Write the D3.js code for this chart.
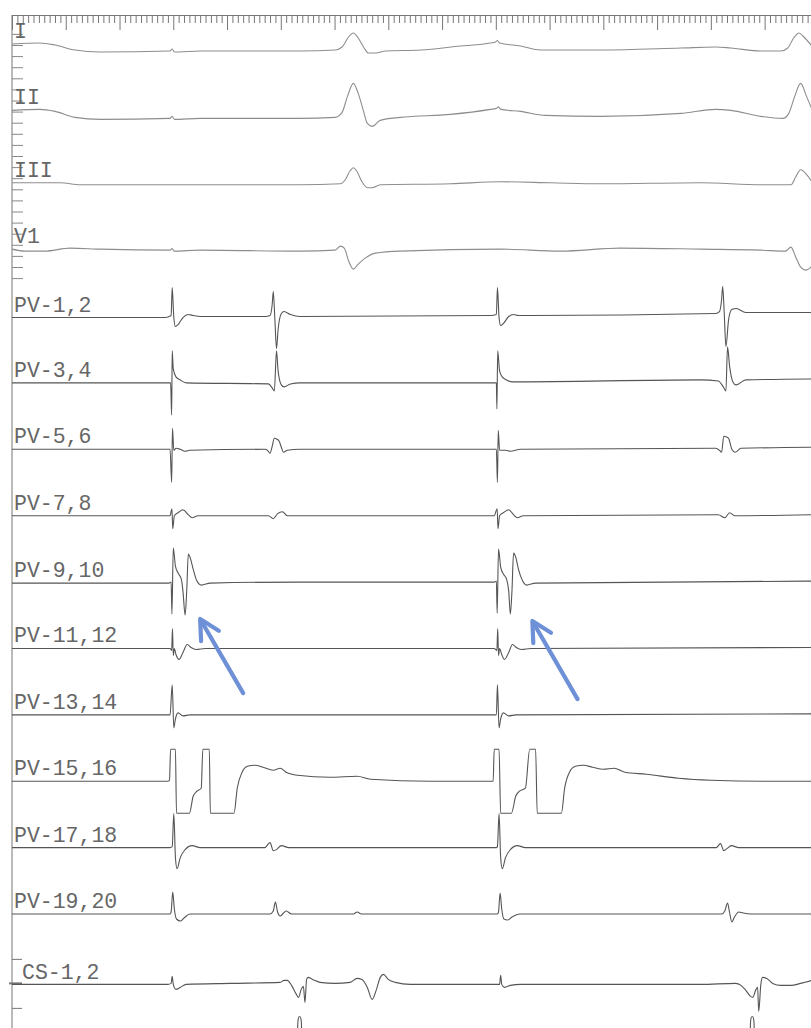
<!DOCTYPE html>
<html><head><meta charset="utf-8">
<script src="https://cdn.jsdelivr.net/npm/d3@7"></script>
<style>html,body{margin:0;padding:0;background:#fff}svg{display:block}</style>
</head><body>
<svg id="chart" width="811" height="1028"></svg>
<script>
// ---------------- DATA ----------------
// time in ms, amplitude in display units (positive = up)
const channels = ["I","II","III","V1","PV-1,2","PV-3,4","PV-5,6","PV-7,8","PV-9,10","PV-11,12","PV-13,14","PV-15,16","PV-17,18","PV-19,20","CS-1,2","STIM"];
const surfaceLeads = ["I","II","III","V1"];

const leadI = [[0,0.7],[52,0.8],[80,0.6],[117,0.1],[164,-0.1],[294,0],[298,0.2],[302,-0.1],[350,0],[536,0],[601,0.1],[614,0.4],[626,1.4],[635,1.8],[644,1.3],[655,0.3],[663,-0.2],[676,-0.2],[695,0],[760,0.1],[834,0.5],[890,0.8],[899,0.9],[903,1.05],[907,0.8],[946,0.5],[983,0.1],[1095,0.1],[1244,0.3],[1309,0.4],[1337,0.3],[1393,0],[1430,0],[1443,0.3],[1454,1.3],[1464,1.8],[1473,1.4],[1488,0.5]];
const leadII = [[0,0.7],[52,0.8],[80,0.6],[117,0],[164,-0.2],[294,-0.1],[298,0.1],[302,-0.2],[350,-0.1],[536,-0.1],[601,0],[614,0.5],[624,2.1],[635,3.4],[644,2.4],[654,0.6],[661,-0.6],[670,-0.9],[685,-0.3],[722,0],[816,0.3],[890,0.8],[901,0.9],[905,1.05],[909,0.8],[946,0.6],[992,0.2],[1095,0.1],[1244,0.4],[1309,0.8],[1337,0.7],[1393,0.1],[1434,-0.1],[1445,0.4],[1456,2.1],[1467,3.4],[1478,2.1],[1488,0.8]];
const leadIII = [[0,0.1],[89,0.1],[127,-0.1],[536,-0.1],[611,0],[620,0.4],[629,1.3],[635,1.6],[642,1.2],[651,0.2],[661,-0.4],[670,-0.4],[685,-0.1],[816,0],[909,0.2],[1002,0.1],[1095,0],[1281,0.1],[1393,-0.1],[1449,-0.1],[1458,0.7],[1467,1.4],[1477,1.0],[1488,0.2]];
const leadV1 = [[0,0.1],[24,-0.1],[61,-0.1],[108,0.2],[164,0.1],[294,0],[298,0.15],[302,-0.1],[350,0],[536,-0.1],[601,0],[611,0.4],[618,0.2],[627,-1.2],[635,-1.9],[644,-1.4],[657,-0.8],[676,-0.3],[722,-0.1],[909,0.1],[1020,-0.1],[1132,0.2],[1281,0.1],[1393,0],[1439,-0.1],[1449,0.3],[1458,-0.7],[1467,-1.7],[1477,-2.0],[1488,-1.6]];
const pv12 = [[0,-0.1],[285,-0.1],[296,0.1],[298,2.9],[301,-0.1],[304,-1.0],[309,-0.8],[318,-0.1],[328,0.2],[337,0.1],[350,0],[471,0],[480,0.1],[484,1.2],[486,2.5],[489,-0.3],[492,-3.2],[495,-1.3],[501,0.3],[506,0.5],[518,0.2],[536,0],[890,0.1],[901,0.2],[903,2.9],[906,-0.1],[909,-0.9],[914,-0.7],[924,0],[933,0.2],[942,0.1],[965,0.1],[1309,0.3],[1316,0.5],[1320,1.7],[1322,3.0],[1325,0.2],[1328,-3.0],[1333,-0.3],[1339,0.7],[1347,0.8],[1365,0.4],[1488,0.4]];
const pv34 = [[0,0],[290,0],[295,0],[297,-3.2],[298,3.2],[300,1.4],[305,0.6],[313,0.3],[324,0],[477,-0.1],[484,-0.5],[488,-0.8],[492,3.2],[495,1.2],[501,-0.2],[506,-0.4],[518,-0.1],[536,0],[897,0],[901,0],[902,-2.6],[903.5,3.2],[907,1.2],[912,0.6],[920,0.3],[931,0.1],[1281,0.3],[1314,0.2],[1322,-0.3],[1328,-0.8],[1331,3.6],[1335,1.6],[1341,0.1],[1347,-0.2],[1365,0.3],[1488,0.4]];
const pv56 = [[0,0],[294,0],[297,-3.3],[298.5,2.1],[301,-0.1],[305,0.1],[313,0],[322,-0.2],[331,-0.1],[471,0],[477,-0.2],[480,-0.4],[484,0.3],[488,1.1],[493,1.0],[497,0.8],[501,0.2],[505,-0.3],[512,-0.1],[536,0],[901,0],[903,-3.3],[904.5,1.9],[907,-0.1],[918,-0.1],[927,-0.2],[946,0],[1309,0.1],[1316,-0.1],[1320,-0.3],[1324,1.3],[1330,1.2],[1333,1.1],[1339,0],[1345,-0.3],[1356,0.1],[1488,0.2]];
const pv78 = [[0,0],[294,0],[297.5,0.7],[299,-1.3],[302,0],[309,0.3],[318,0.6],[328,0.1],[335,-0.2],[346,0],[477,0],[486,-0.3],[494,0.2],[503,0.4],[512,0],[897,0],[902.5,0.7],[904,-1.3],[907,0],[914,0.3],[924,0.6],[933,0.1],[940,-0.2],[951,0],[1314,0.1],[1326,-0.2],[1335,0.3],[1344,0],[1488,0.1]];
const pv910 = [[0,-0.1],[292,-0.1],[296,0],[297.5,-3.2],[300,3.4],[304,1.6],[309,0.9],[315,0.3],[318,-0.9],[322,-3.3],[325,-0.9],[328,2.8],[331,2.5],[337,1.3],[344,0.1],[352,-0.3],[369,-0.1],[536,0],[897,0],[901,0.1],[902.5,-3.1],[905,3.3],[909,1.5],[914,0.8],[920,0.3],[924,-0.9],[927,-3.2],[930,-0.9],[933,2.9],[937,2.5],[942,1.3],[950,0.1],[957,-0.3],[974,-0.1],[1488,0.1]];
const pv1112 = [[0,0],[294,0],[297,-0.2],[298.5,2.0],[300,-0.7],[302,0],[305,-0.6],[311,-1.1],[318,-0.4],[326,0.4],[333,0.1],[343,-0.1],[359,0],[897,0],[902,-0.2],[903.5,2.0],[905,-0.7],[907,0],[911,-0.6],[916,-1.1],[924,-0.4],[931,0.4],[938,0.1],[948,-0.1],[965,0],[1488,0.1]];
const pv1314 = [[0,0],[294,0],[298,3.0],[301,-1.3],[304,-0.4],[309,0.2],[318,-0.1],[331,0],[901,0],[903,3.0],[906,-1.3],[909,-0.4],[914,0.2],[924,-0.1],[937,0],[1488,0.1]];
const pv1516 = [[0,0],[290,0],[293,0.1],[295,3.2],[304,3.2],[306,-3.2],[330,-3.2],[337,-1.5],[344,-1.0],[352,-0.7],[355,3.2],[367,3.2],[369,-3.2],[413,-3.2],[419,-0.7],[428,0.9],[438,1.5],[452,1.6],[467,1.4],[486,1.1],[499,1.3],[510,0.9],[531,0.6],[592,0.4],[642,0.5],[667,0.2],[778,0],[895,0],[897,3.2],[906,3.2],[909,-3.2],[929,-3.2],[937,-1.5],[944,-1.0],[955,-0.7],[963,3.2],[974,3.2],[977,-3.2],[1022,-3.2],[1028,-0.7],[1037,0.9],[1048,1.5],[1063,1.6],[1080,1.4],[1100,1.2],[1120,1.3],[1140,0.9],[1180,0.7],[1240,0.3],[1300,0.1],[1400,0],[1488,0]];
const pv1718 = [[0,0],[294,0],[298,0.1],[301,3.4],[304,-1.0],[307,-2.1],[313,-1.0],[322,-0.2],[335,0.2],[350,0],[470,0],[480,0.5],[486,-0.3],[492,-0.2],[501,0.2],[515,0],[901,0],[903,0.1],[906,3.4],[909,-1.0],[912,-2.1],[918,-1.0],[927,-0.2],[940,0.2],[955,0],[1310,0],[1318,0.4],[1324,-0.3],[1330,-0.1],[1338,0.2],[1352,0],[1488,0]];
const pv1920 = [[0,0],[294,0],[296,0.2],[299,2.2],[302,0.5],[306,-0.5],[313,-0.7],[320,-0.4],[331,0],[480,0],[486,0.3],[490,1.2],[494,0.2],[499,-0.2],[505,0.1],[510,0.3],[520,0],[635,0],[642,0.2],[650,0],[903,0],[905,0.2],[908,2.1],[911,0.5],[915,-0.5],[922,-0.6],[930,-0.3],[945,0],[1320,0],[1326,0.3],[1331,1.1],[1335,0.1],[1339,-0.8],[1344,-0.3],[1352,0.2],[1360,0.1],[1375,0],[1488,0]];
const cs12 = [[0,-0.4],[290,-0.4],[296,-0.3],[298,0.4],[300,-0.4],[305,-0.9],[313,-0.7],[324,-0.4],[406,-0.3],[499,-0.2],[506,0],[512,0],[520,-0.5],[529,-1.4],[533,-1.7],[538,-0.9],[542,-0.6],[545,-2.2],[548,0.1],[551,0.3],[559,0.1],[573,-0.2],[601,-0.3],[629,-0.2],[642,0.2],[651,0.1],[661,-0.7],[670,-1.9],[678,-0.9],[685,0.3],[691,0.6],[700,0.1],[713,-0.2],[741,-0.4],[897,-0.4],[907,-0.4],[909,0.5],[911,-0.4],[916,-0.7],[927,-0.5],[946,-0.4],[1281,-0.4],[1346,-0.3],[1356,-0.5],[1365,-1.0],[1374,-1.6],[1378,-1.7],[1384,-0.9],[1387,-0.7],[1389,-3.1],[1393,-0.4],[1396,0.3],[1404,0.2],[1415,-0.3],[1430,-0.5],[1449,-0.5],[1467,-0.3],[1488,0]];
const stim = [[0,0],[530,0],[532,2.6],[534,3.0],[536,3.0],[538,2.6],[540,0],[1372,0],[1374,2.6],[1376,3.0],[1378,3.0],[1380,2.6],[1382,0],[1488,0]];

const traces = [leadI,leadII,leadIII,leadV1,pv12,pv34,pv56,pv78,pv910,pv1112,pv1314,pv1516,pv1718,pv1920,cs12,stim];

// ruler: minor every 10 ms, major every 100 ms
const rulerMinor = d3.range(0, 1490, 10);
const rulerMajorStep = 100;
// calibration ticks (surface lead amplitude marks), in tick units
const surfaceCalTicks = d3.range(-1, 22);
const csCalTicks = [2.1, -0.3, -2.8];

// arrows: [tipTime, tipAmp, tailTime, tailAmp] on channel PV-9,10
const arrowChannel = "PV-9,10";
const arrows = [[350,-3.7,430,-11.1],[968,-3.9,1052,-11.7]];

// ---------------- DRAW ----------------
const W = 811, H = 1028;
const svg = d3.select("#chart");
const x = d3.scaleLinear().domain([0, 1490]).range([12, 813]);
const base = d3.scaleLinear().domain([0, 13]).range([51, 914]);
const amp = d3.scaleLinear().domain([0, 1]).range([0, -10]);
const yOf = (i, a) => base(i) + amp(a);

// left border line
svg.append("line").attr("x1", 12).attr("x2", 12).attr("y1", 15).attr("y2", H)
  .attr("stroke", "#777").attr("stroke-width", 1);

// top ruler
const rulerG = svg.append("g").attr("transform", "translate(0,15)");
rulerG.call(d3.axisBottom(x).tickValues(rulerMinor).tickSize(8).tickSizeOuter(0).tickFormat(""));
rulerG.select(".domain").attr("stroke", "#777");
rulerG.selectAll(".tick line").attr("stroke", "#777")
  .attr("y2", d => d % rulerMajorStep === 0 ? 15 : 8);

// left calibration ticks
const calScale = d3.scaleLinear().domain([0, 1]).range([45.5, 56.6]);
svg.append("g").selectAll("line").data(surfaceCalTicks).join("line")
  .attr("x1", 12).attr("x2", 23)
  .attr("y1", d => calScale(d)).attr("y2", d => calScale(d))
  .attr("stroke", "#888").attr("stroke-width", 1);
const csIdx = channels.indexOf("CS-1,2");
svg.append("g").selectAll("line").data(csCalTicks).join("line")
  .attr("x1", (d, i) => i === 1 ? 9 : 12).attr("x2", 22)
  .attr("y1", d => yOf(csIdx, d)).attr("y2", d => yOf(csIdx, d))
  .attr("stroke", "#777").attr("stroke-width", (d, i) => i === 1 ? 2 : 1);

// traces
const line = d3.line().curve(d3.curveMonotoneX);
traces.forEach((tr, i) => {
  const isSurf = surfaceLeads.includes(channels[i]);
  svg.append("path")
    .attr("d", line.x(d => x(d[0])).y(d => yOf(i, d[1]))(tr))
    .attr("fill", "none")
    .attr("stroke", isSurf ? "#8d8d8d" : "#555")
    .attr("stroke-width", isSurf ? 1.1 : 1.1)
    .attr("stroke-linejoin", "round");
});

// labels
channels.forEach((name, i) => {
  if (name === "STIM") return;
  const isCS = name === "CS-1,2";
  svg.append("text")
    .attr("x", isCS ? 22 : 14)
    .attr("y", yOf(i, traces[i][0][1]) - (isCS ? 5 : 6))
    .attr("font-family", "'Liberation Mono', 'DejaVu Sans Mono', monospace")
    .attr("font-size", 21.5)
    .attr("fill", "#666")
    .text(name);
});

// arrows
const ai = channels.indexOf(arrowChannel);
const arrowColor = "#6d90d6";
arrows.forEach(a => {
  const tx = x(a[0]), ty = yOf(ai, a[1]);
  const sx = x(a[2]), sy = yOf(ai, a[3]);
  const ang = Math.atan2(sy - ty, sx - tx);
  const hl = 22, spread = Math.PI / 6.5;
  const g = svg.append("g").attr("stroke", arrowColor).attr("stroke-width", 4.2)
    .attr("fill", "none").attr("stroke-linecap", "round").attr("stroke-linejoin", "round");
  g.append("line").attr("x1", sx).attr("y1", sy).attr("x2", tx + Math.cos(ang) * 2).attr("y2", ty + Math.sin(ang) * 2);
  g.append("path").attr("d", d3.line()([
    [tx + hl * Math.cos(ang - spread), ty + hl * Math.sin(ang - spread)],
    [tx, ty],
    [tx + hl * Math.cos(ang + spread), ty + hl * Math.sin(ang + spread)]
  ]));
});
</script>
</body></html>
